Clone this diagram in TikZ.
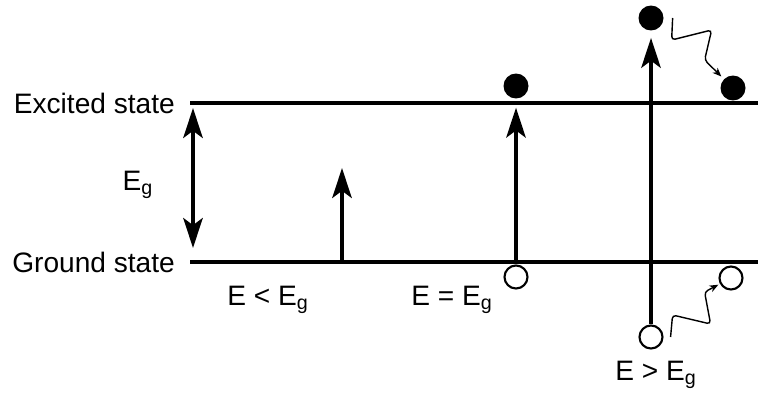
\documentclass[tikz,border=0pt]{standalone}
\usepackage{fontspec}
\setmainfont{Liberation Sans}
\usetikzlibrary{arrows.meta}

\begin{document}
\begin{tikzpicture}[x=0.02cm, y=-0.02cm,
  font=\fontsize{16}{19}\selectfont,
  lv/.style={line width=2.3pt},
  ar/.style={line width=2.3pt, -{Stealth[length=17pt, width=11pt, inset=4pt]}},
  dar/.style={ar, {Stealth[length=17pt, width=11pt, inset=4pt]}-{Stealth[length=17pt, width=11pt, inset=4pt]}},
  wv/.style={line width=0.8pt, rounded corners=2pt, -{Stealth[length=5pt, width=4pt, inset=1.5pt]}},
  el/.style={circle, fill=black, inner sep=0pt, minimum size=0.5cm},
  ho/.style={circle, draw, line width=1.2pt, fill=white, inner sep=0pt, minimum size=0.46cm}]
\useasboundingbox (0,0) rectangle (758,396);
% levels
\node[anchor=east] (exc) at (181,103) {Excited state};
\node[anchor=east] (gnd) at (181,262) {Ground state};
\coordinate (e0) at (190,103); \coordinate (e1) at (758,103);
\coordinate (g0) at (190,262); \coordinate (g1) at (758,262);
\draw[lv] (e0) -- (e1); \draw[lv] (g0) -- (g1);
% band gap
\coordinate (d0) at (193,108); \coordinate (d1) at (193,248);
\draw[dar] (d0) -- (d1);
\node (eg) at (138,185) {E\textsubscript{g}};
% E < Eg
\coordinate (a0) at (342,262); \coordinate (a1) at (342,168);
\draw[ar] (a0) -- (a1);
\node (lt) at (268,300) {E < E\textsubscript{g}};
% E = Eg
\node[el] (f1) at (516,86) {};
\node[ho] (h1) at (516,277) {};
\draw[ar, shorten >=5pt] (h1) -- (f1);
\node (eq) at (452,300) {E = E\textsubscript{g}};
% E > Eg
\node[el] (f2) at (651,18) {};
\node[ho] (h2) at (651,337) {};
\node[el] (f3) at (733,88) {};
\node[ho] (h3) at (731,278) {};
\draw[ar, shorten >=4pt] (h2) -- (f2);
\draw[wv, shorten >=2pt] ([xshift=5pt]f2.east) -- ++(-1,22) -- ++(40,-10) -- ++(-7,30) -- (f3);
\draw[wv, shorten >=1pt] ([xshift=4pt]h2.east) -- ++(2,-22) -- ++(38,9) -- ++(-6,-32) -- (h3);
\node (gt) at (656,375) {E > E\textsubscript{g}};
\end{tikzpicture}
\end{document}
